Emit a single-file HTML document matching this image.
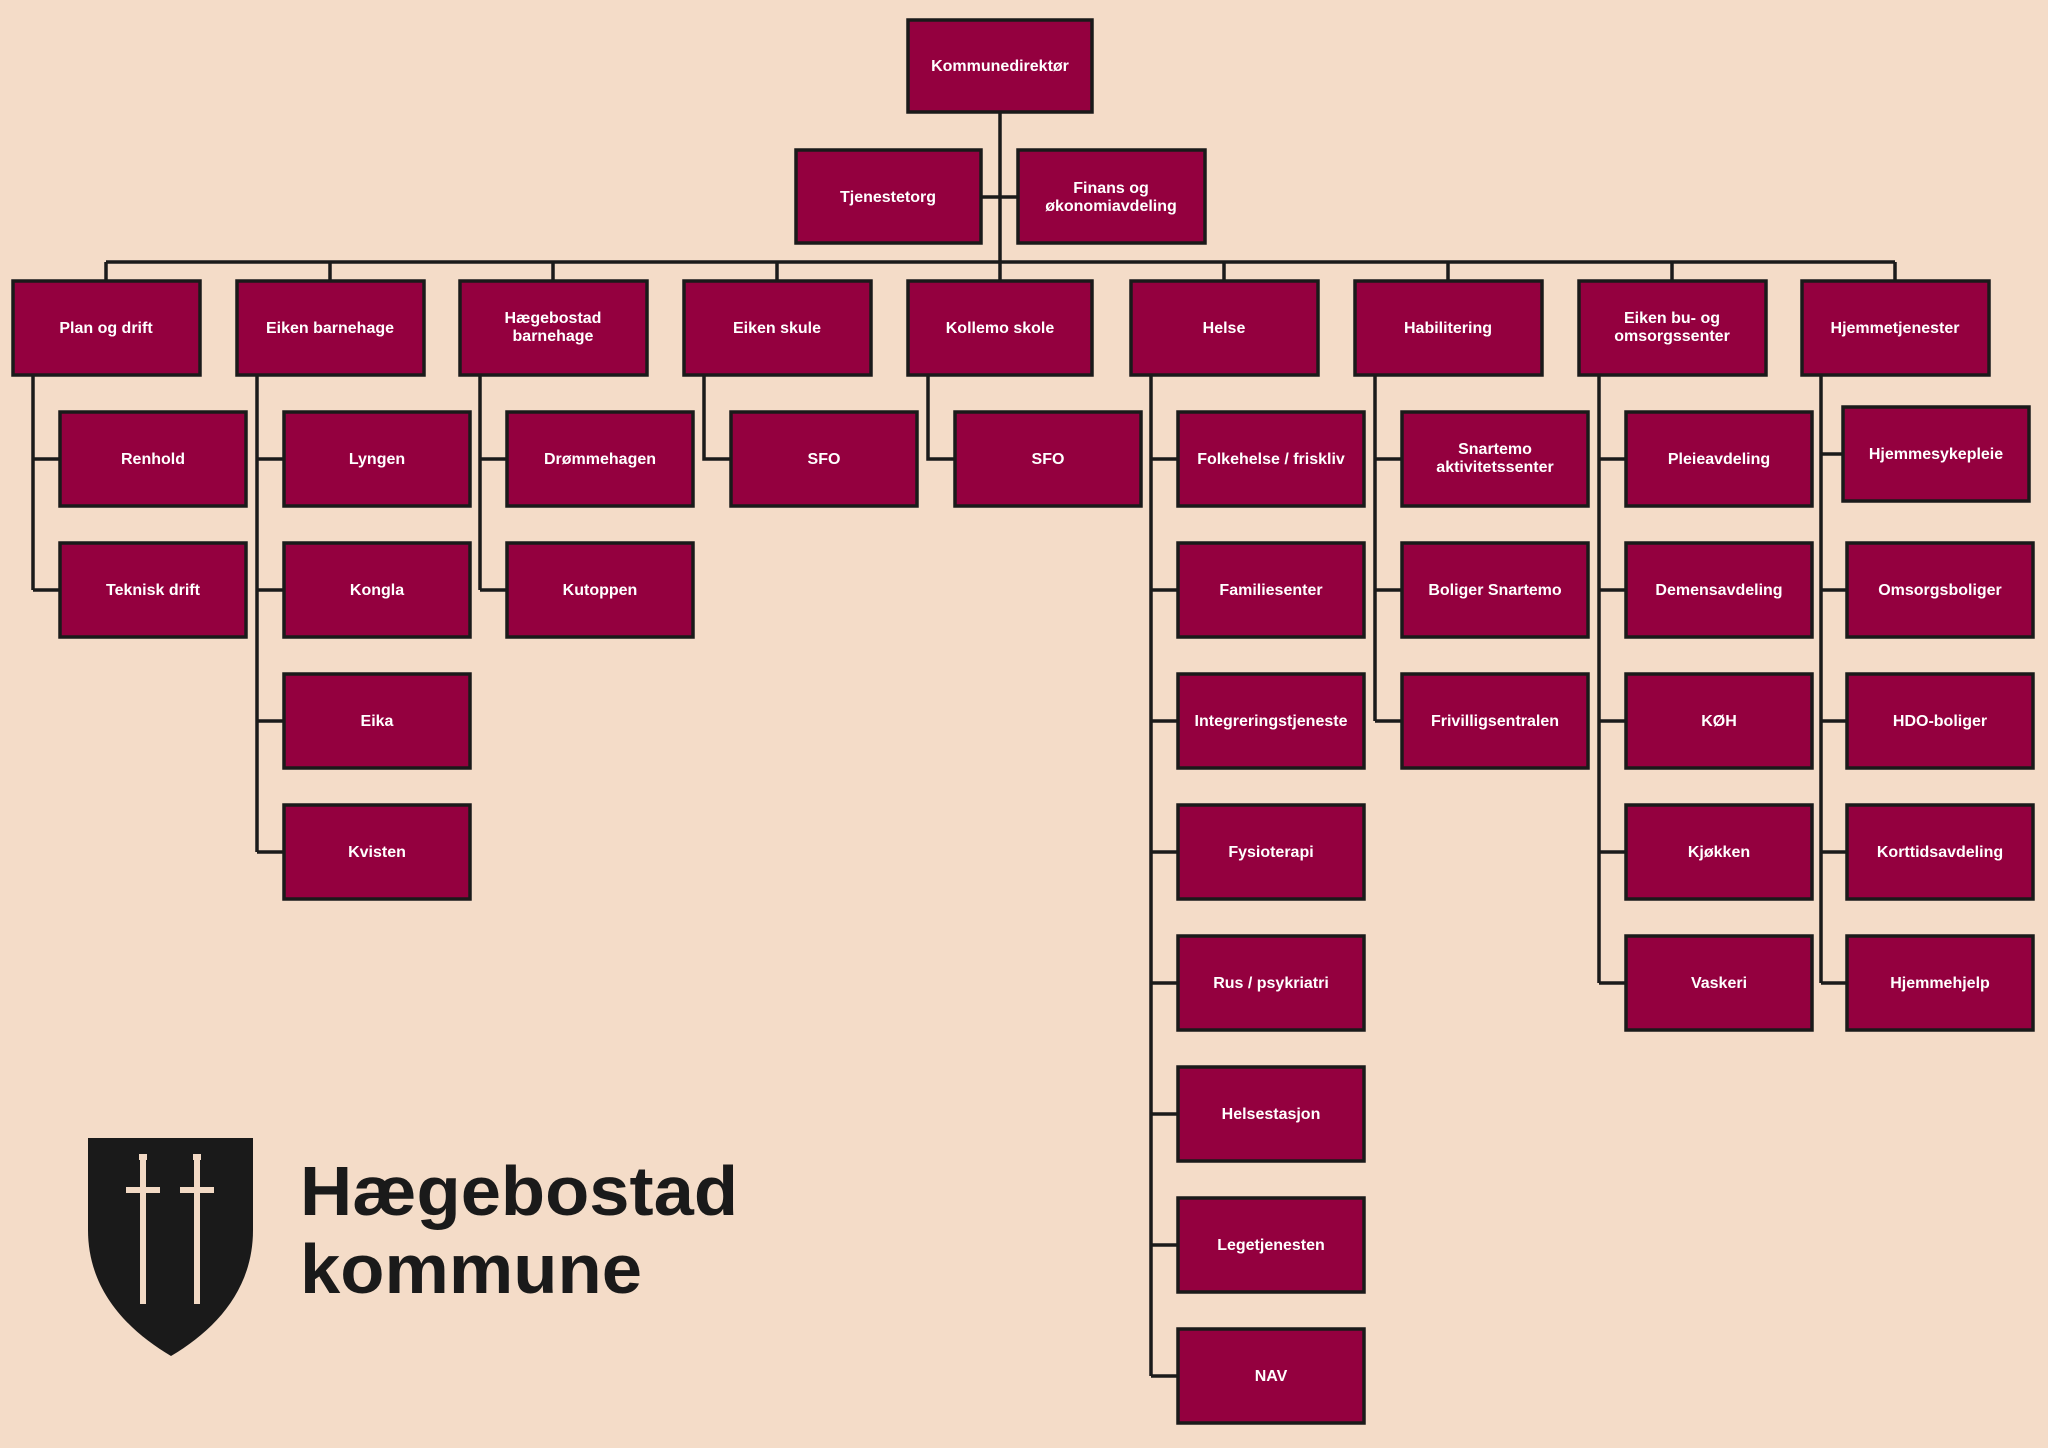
<!DOCTYPE html>
<html><head><meta charset="utf-8"><style>
html,body{margin:0;padding:0;background:#f4dcc8;}
svg{display:block}
text{font-family:"Liberation Sans",sans-serif;font-weight:bold;font-size:16px;fill:#fff;text-anchor:middle;}
.b{fill:#94003f;stroke:#1a1a1a;stroke-width:3.5}
.l{stroke:#1a1a1a;stroke-width:3.5;fill:none}
</style></head><body>
<svg width="2048" height="1448" viewBox="0 0 2048 1448" xmlns="http://www.w3.org/2000/svg">
<rect width="2048" height="1448" fill="#f4dcc8"/>
<path class="l" d="M1000 112V281 M981 197H1018 M106 262H1895 M106 262V281 M330 262V281 M553 262V281 M777 262V281 M1224 262V281 M1448 262V281 M1672 262V281 M1895 262V281"/>
<path class="l" d="M33 375V590 M60 459H33 M60 590H33"/>
<path class="l" d="M257 375V852 M284 459H257 M284 590H257 M284 721H257 M284 852H257"/>
<path class="l" d="M480 375V590 M507 459H480 M507 590H480"/>
<path class="l" d="M704 375V459H731"/>
<path class="l" d="M928 375V459H955"/>
<path class="l" d="M1151 375V1376 M1178 459H1151 M1178 590H1151 M1178 721H1151 M1178 852H1151 M1178 983H1151 M1178 1114H1151 M1178 1245H1151 M1178 1376H1151"/>
<path class="l" d="M1375 375V721 M1402 459H1375 M1402 590H1375 M1402 721H1375"/>
<path class="l" d="M1599 375V983 M1626 459H1599 M1626 590H1599 M1626 721H1599 M1626 852H1599 M1626 983H1599"/>
<path class="l" d="M1821 375V983 M1843 454H1821 M1847 590H1821 M1847 721H1821 M1847 852H1821 M1847 983H1821"/>

<rect class="b" x="908" y="20" width="184" height="92"/><text x="1000" y="71">Kommunedirektør</text>
<rect class="b" x="796" y="150" width="185" height="93"/><text x="888" y="202">Tjenestetorg</text>
<rect class="b" x="1018" y="150" width="187" height="93"/><text x="1111" y="193">Finans og</text><text x="1111" y="211">økonomiavdeling</text>

<rect class="b" x="13" y="281" width="187" height="94"/><text x="106" y="333">Plan og drift</text>
<rect class="b" x="237" y="281" width="187" height="94"/><text x="330" y="333">Eiken barnehage</text>
<rect class="b" x="460" y="281" width="187" height="94"/><text x="553" y="323">Hægebostad</text><text x="553" y="341">barnehage</text>
<rect class="b" x="684" y="281" width="187" height="94"/><text x="777" y="333">Eiken skule</text>
<rect class="b" x="908" y="281" width="184" height="94"/><text x="1000" y="333">Kollemo skole</text>
<rect class="b" x="1131" y="281" width="187" height="94"/><text x="1224" y="333">Helse</text>
<rect class="b" x="1355" y="281" width="187" height="94"/><text x="1448" y="333">Habilitering</text>
<rect class="b" x="1579" y="281" width="187" height="94"/><text x="1672" y="323">Eiken bu- og</text><text x="1672" y="341">omsorgssenter</text>
<rect class="b" x="1802" y="281" width="187" height="94"/><text x="1895" y="333">Hjemmetjenester</text>

<rect class="b" x="60" y="412" width="186" height="94"/><text x="153" y="464">Renhold</text>
<rect class="b" x="60" y="543" width="186" height="94"/><text x="153" y="595">Teknisk drift</text>
<rect class="b" x="284" y="412" width="186" height="94"/><text x="377" y="464">Lyngen</text>
<rect class="b" x="284" y="543" width="186" height="94"/><text x="377" y="595">Kongla</text>
<rect class="b" x="284" y="674" width="186" height="94"/><text x="377" y="726">Eika</text>
<rect class="b" x="284" y="805" width="186" height="94"/><text x="377" y="857">Kvisten</text>
<rect class="b" x="507" y="412" width="186" height="94"/><text x="600" y="464">Drømmehagen</text>
<rect class="b" x="507" y="543" width="186" height="94"/><text x="600" y="595">Kutoppen</text>
<rect class="b" x="731" y="412" width="186" height="94"/><text x="824" y="464">SFO</text>
<rect class="b" x="955" y="412" width="186" height="94"/><text x="1048" y="464">SFO</text>
<rect class="b" x="1178" y="412" width="186" height="94"/><text x="1271" y="464">Folkehelse / friskliv</text>
<rect class="b" x="1178" y="543" width="186" height="94"/><text x="1271" y="595">Familiesenter</text>
<rect class="b" x="1178" y="674" width="186" height="94"/><text x="1271" y="726">Integreringstjeneste</text>
<rect class="b" x="1178" y="805" width="186" height="94"/><text x="1271" y="857">Fysioterapi</text>
<rect class="b" x="1178" y="936" width="186" height="94"/><text x="1271" y="988">Rus / psykriatri</text>
<rect class="b" x="1178" y="1067" width="186" height="94"/><text x="1271" y="1119">Helsestasjon</text>
<rect class="b" x="1178" y="1198" width="186" height="94"/><text x="1271" y="1250">Legetjenesten</text>
<rect class="b" x="1178" y="1329" width="186" height="94"/><text x="1271" y="1381">NAV</text>
<rect class="b" x="1402" y="412" width="186" height="94"/><text x="1495" y="454">Snartemo</text><text x="1495" y="472">aktivitetssenter</text>
<rect class="b" x="1402" y="543" width="186" height="94"/><text x="1495" y="595">Boliger Snartemo</text>
<rect class="b" x="1402" y="674" width="186" height="94"/><text x="1495" y="726">Frivilligsentralen</text>
<rect class="b" x="1626" y="412" width="186" height="94"/><text x="1719" y="464">Pleieavdeling</text>
<rect class="b" x="1626" y="543" width="186" height="94"/><text x="1719" y="595">Demensavdeling</text>
<rect class="b" x="1626" y="674" width="186" height="94"/><text x="1719" y="726">KØH</text>
<rect class="b" x="1626" y="805" width="186" height="94"/><text x="1719" y="857">Kjøkken</text>
<rect class="b" x="1626" y="936" width="186" height="94"/><text x="1719" y="988">Vaskeri</text>
<rect class="b" x="1843" y="407" width="186" height="94"/><text x="1936" y="459">Hjemmesykepleie</text>
<rect class="b" x="1847" y="543" width="186" height="94"/><text x="1940" y="595">Omsorgsboliger</text>
<rect class="b" x="1847" y="674" width="186" height="94"/><text x="1940" y="726">HDO-boliger</text>
<rect class="b" x="1847" y="805" width="186" height="94"/><text x="1940" y="857">Korttidsavdeling</text>
<rect class="b" x="1847" y="936" width="186" height="94"/><text x="1940" y="988">Hjemmehjelp</text>

<path d="M88 1138H253V1230C253 1290 215 1330 171 1356C127 1330 88 1290 88 1230Z" fill="#1a1a1a"/>
<g fill="#f2d9c4">
<rect x="140" y="1158" width="6" height="146"/>
<rect x="126" y="1187" width="34" height="6"/>
<rect x="139" y="1154" width="8" height="6"/>
<rect x="194" y="1158" width="6" height="146"/>
<rect x="180" y="1187" width="34" height="6"/>
<rect x="193" y="1154" width="8" height="6"/>
</g>
<text x="300" y="1215" style="fill:#1a1a1a;font-size:70px;text-anchor:start" textLength="438" lengthAdjust="spacingAndGlyphs">Hægebostad</text>
<text x="300" y="1293" style="fill:#1a1a1a;font-size:70px;text-anchor:start" textLength="342" lengthAdjust="spacingAndGlyphs">kommune</text>
</svg>
</body></html>
